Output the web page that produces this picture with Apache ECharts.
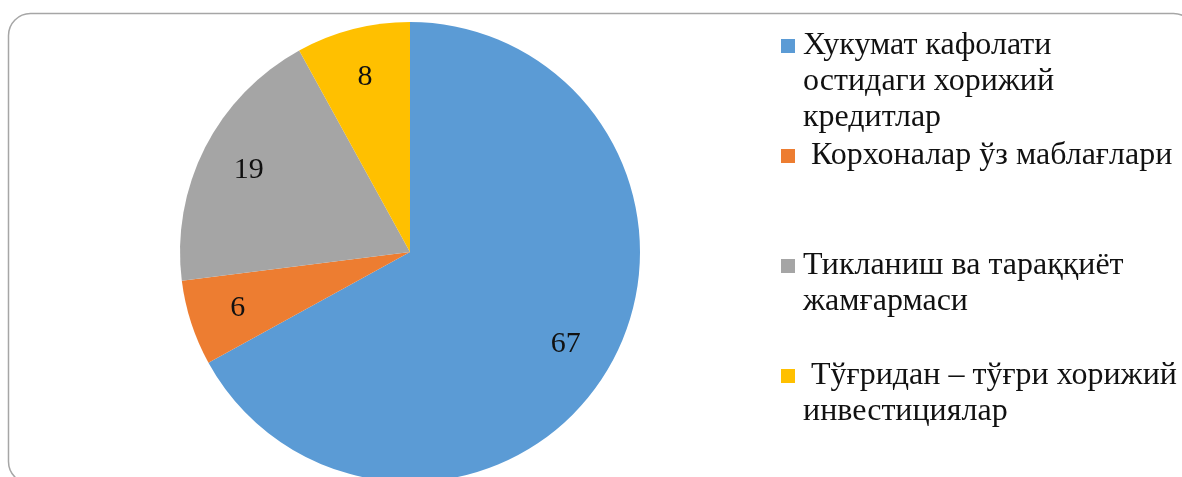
<!DOCTYPE html>
<html>
<head>
<meta charset="utf-8">
<script src="https://cdn.jsdelivr.net/npm/echarts@6/dist/echarts.min.js"></script>
<style>
  html, body { margin: 0; padding: 0; background: #ffffff; }
  #chart { width: 1182px; height: 477px; }
</style>
</head>
<body>
<div id="chart"></div>
<script>
// Funding sources, percent of total
const categories = [
  'Хукумат кафолати\nостидаги хорижий\nкредитлар',
  ' Корхоналар ўз маблағлари',
  'Тикланиш ва тараққиёт\nжамғармаси',
  ' Тўғридан – тўғри хорижий\nинвестициялар'
];
const values = [67, 6, 19, 8];
const colors = ['#5B9BD5', '#ED7D31', '#A5A5A5', '#FFC000'];

const FONT = '"Liberation Serif", "Times New Roman", serif';
const chart = echarts.init(document.getElementById('chart'), null, { renderer: 'canvas' });

const pieData = categories.map((name, i) => ({ name: name, value: values[i] }));

// Legend: one block per entry, colour square inline with the first text line
const rich = {
  t: { fontFamily: FONT, fontSize: 32, lineHeight: 36, color: '#111111' },
  g: { width: 8, height: 14 },
  s: { width: 22, height: 14 }
};
colors.forEach((c, i) => {
  rich['m' + i] = { width: 14, height: 14, backgroundColor: c };
});

function legendText(name) {
  const i = categories.indexOf(name);
  const lines = name.split('\n');
  return lines.map((ln, k) =>
    (k === 0 ? '{m' + i + '|}{g|}' : '{s|}') + '{t|' + ln + '}'
  ).join('\n');
}

const legends = categories.map((name, i) => ({
  data: [name],
  orient: 'vertical',
  left: 776,
  top: 30 + i * 110,
  padding: 0,
  itemWidth: 0,
  itemHeight: 0,
  icon: 'none',
  selectedMode: false,
  formatter: legendText,
  textStyle: { rich: rich }
}));

chart.setOption({
  animation: false,
  color: colors,
  legend: legends,
  graphic: [{
    type: 'rect',
    z: -1,
    shape: { x: 8.5, y: 13.5, width: 1187, height: 470, r: 22 },
    style: { fill: 'none', stroke: '#a6a6a6', lineWidth: 1.5 }
  }],
  series: [
    {
      type: 'pie',
      center: [410, 252],
      radius: [0, 230],
      startAngle: 90,
      clockwise: true,
      data: pieData,
      label: { show: false },
      labelLine: { show: false },
      itemStyle: { borderWidth: 0 },
      emphasis: { disabled: true },
      silent: true
    },
    {
      // transparent ring that only carries the value labels
      type: 'pie',
      center: [410, 252],
      radius: [126, 230],
      startAngle: 90,
      clockwise: true,
      data: pieData,
      itemStyle: { color: 'rgba(0,0,0,0)' },
      label: {
        show: true,
        position: 'inside',
        formatter: '{c}',
        fontFamily: FONT,
        fontSize: 30,
        color: '#111111'
      },
      labelLine: { show: false },
      emphasis: { disabled: true },
      silent: true
    }
  ]
});
</script>
</body>
</html>
